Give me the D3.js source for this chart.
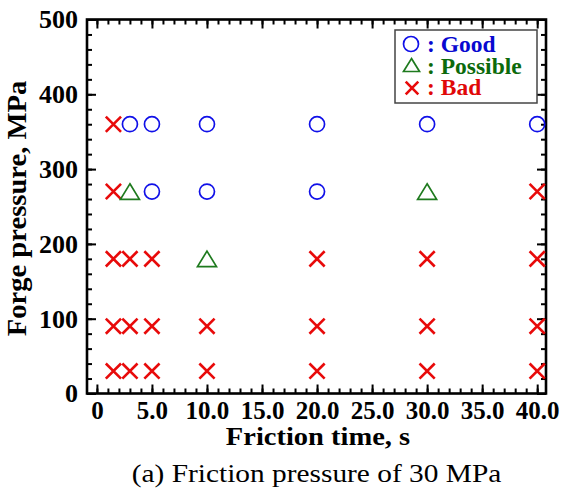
<!DOCTYPE html>
<html>
<head>
<meta charset="utf-8">
<script src="https://cdn.jsdelivr.net/npm/d3@7"></script>
<style>
  html, body { margin: 0; padding: 0; background: #fff; }
  svg { display: block; }
  text { font-family: "Liberation Serif", "Times New Roman", serif; }
</style>
</head>
<body>
<svg id="chart" width="562" height="499"></svg>
<script>
// Friction time (s) and forge pressure (MPa) of each trial, grouped by outcome
const goodTime      = [3, 5, 10, 20, 30, 40, 5, 10, 20];
const goodPressure  = [360, 360, 360, 360, 360, 360, 270, 270, 270];

const possibleTime     = [3, 30, 10];
const possiblePressure = [270, 270, 180];

const badTime     = [1.5, 1.5, 40,
                     1.5, 3, 5, 20, 30, 40,
                     1.5, 3, 5, 10, 20, 30, 40,
                     1.5, 3, 5, 10, 20, 30, 40];
const badPressure = [360, 270, 270,
                     180, 180, 180, 180, 180, 180,
                     90, 90, 90, 90, 90, 90, 90,
                     30, 30, 30, 30, 30, 30, 30];

const xTickValues = [0, 5, 10, 15, 20, 25, 30, 35, 40];
const xTickLabels = ["0", "5.0", "10.0", "15.0", "20.0", "25.0", "30.0", "35.0", "40.0"];
const yTickValues = [0, 100, 200, 300, 400, 500];
const yTickLabels = ["0", "100", "200", "300", "400", "500"];

const legendLabels = ["Good", "Possible", "Bad"];

const BLUE = "#1010e8", GREEN = "#1e7a1e", RED = "#e80a0a";
const TEXT_BLUE = "#0808d0", TEXT_GREEN = "#0c6a0c", TEXT_RED = "#e00808";

const svg = d3.select("#chart");
const plotL = 87, plotR = 546, plotT = 19.5, plotB = 393.5;

const x = d3.scaleLinear().domain([-0.9, 40.8]).range([plotL, plotR]);
const y = d3.scaleLinear().domain([0, 500]).range([plotB, plotT]);

// Inward ticks on all four sides: minor ticks first, then majors
const xMinor = d3.range(0, 41, 1);
const yMinor = d3.range(0, 501, 20);

function tickAxis(axisGen, transform, values, len) {
  const g = svg.append("g").attr("transform", transform)
    .call(axisGen.tickValues(values).tickSize(len).tickFormat(""));
  g.select(".domain").remove();
  g.selectAll("line").attr("stroke", "#000").attr("stroke-width", 2);
  return g;
}
// bottom (ticks pointing up into the plot)
tickAxis(d3.axisTop(x), `translate(0,${plotB})`, xMinor, 5);
tickAxis(d3.axisTop(x), `translate(0,${plotB})`, xTickValues, 9);
// top
tickAxis(d3.axisBottom(x), `translate(0,${plotT})`, xMinor, 5);
tickAxis(d3.axisBottom(x), `translate(0,${plotT})`, xTickValues, 9);
// left
tickAxis(d3.axisRight(y), `translate(${plotL},0)`, yMinor, 5);
tickAxis(d3.axisRight(y), `translate(${plotL},0)`, yTickValues, 9);
// right
tickAxis(d3.axisLeft(y), `translate(${plotR},0)`, yMinor, 5);
tickAxis(d3.axisLeft(y), `translate(${plotR},0)`, yTickValues, 9);

// Plot frame
svg.append("rect")
  .attr("x", plotL).attr("y", plotT)
  .attr("width", plotR - plotL).attr("height", plotB - plotT)
  .attr("fill", "none").attr("stroke", "#000").attr("stroke-width", 2.6);

// Tick labels
const xLab = d3.axisBottom(x).tickValues(xTickValues)
  .tickFormat((d, i) => xTickLabels[i]).tickSize(0).tickPadding(8);
const gx = svg.append("g").attr("transform", `translate(0,${plotB})`).call(xLab);
gx.select(".domain").remove();
gx.selectAll("text").attr("font-size", 25).attr("font-weight", "bold")
  .attr("fill", "#000").attr("font-family", "Liberation Serif, serif");

const yLab = d3.axisLeft(y).tickValues(yTickValues)
  .tickFormat((d, i) => yTickLabels[i]).tickSize(0).tickPadding(9);
const gy = svg.append("g").attr("transform", `translate(${plotL},0)`).call(yLab);
gy.select(".domain").remove();
gy.selectAll("text").attr("font-size", 26).attr("font-weight", "bold")
  .attr("fill", "#000").attr("font-family", "Liberation Serif, serif");

// Axis titles (set slightly wide)
svg.append("text")
  .attr("transform", "translate(318,445) scale(1.14,1)")
  .attr("text-anchor", "middle").attr("font-size", 25).attr("font-weight", "bold")
  .text("Friction time, s");

svg.append("text")
  .attr("transform", "translate(26,208.5) rotate(-90) scale(1.08,1)")
  .attr("text-anchor", "middle").attr("font-size", 26.5).attr("font-weight", "bold")
  .text("Forge pressure, MPa");

// Caption
svg.append("text")
  .attr("transform", "translate(316.5,482) scale(1.13,1)")
  .attr("text-anchor", "middle").attr("font-size", 26)
  .text("(a) Friction pressure of 30 MPa");

// Marker shapes
function drawCircle(g, cx, cy, r) {
  g.append("circle").attr("cx", cx).attr("cy", cy).attr("r", r)
    .attr("fill", "none").attr("stroke", BLUE).attr("stroke-width", 1.7);
}
function drawTriangle(g, cx, cy, hw, h) {
  g.append("path")
    .attr("d", `M0,${-h / 2}L${hw},${h / 2}L${-hw},${h / 2}Z`)
    .attr("transform", `translate(${cx},${cy})`)
    .attr("fill", "none").attr("stroke", GREEN).attr("stroke-width", 1.7);
}
function drawCross(g, cx, cy, s) {
  g.append("path")
    .attr("d", `M${-s},${-s}L${s},${s}M${-s},${s}L${s},${-s}`)
    .attr("transform", `translate(${cx},${cy})`)
    .attr("fill", "none").attr("stroke", RED).attr("stroke-width", 2.6);
}

const marks = svg.append("g");
badTime.forEach((t, i) => drawCross(marks, x(t), y(badPressure[i]), 7.6));
goodTime.forEach((t, i) => drawCircle(marks, x(t), y(goodPressure[i]), 7.5));
possibleTime.forEach((t, i) => drawTriangle(marks, x(t), y(possiblePressure[i]), 9.5, 15.5));

// Legend
const lg = svg.append("g");
lg.append("rect").attr("x", 395).attr("y", 30).attr("width", 142).attr("height", 73)
  .attr("fill", "#fff").attr("stroke", "#444").attr("stroke-width", 1.5);
const rowY = [44, 65, 88];
const rowColor = [TEXT_BLUE, TEXT_GREEN, TEXT_RED];
drawCircle(lg, 411, rowY[0], 7.5);
drawTriangle(lg, 411.5, rowY[1], 8, 13);
drawCross(lg, 412, rowY[2], 6.3);
legendLabels.forEach((name, i) => {
  lg.append("text").attr("x", 427).attr("y", [52, 73.5, 95][i])
    .attr("font-size", 23.5).attr("font-weight", "bold").attr("fill", rowColor[i])
    .text(": " + name);
});
</script>
</body>
</html>
